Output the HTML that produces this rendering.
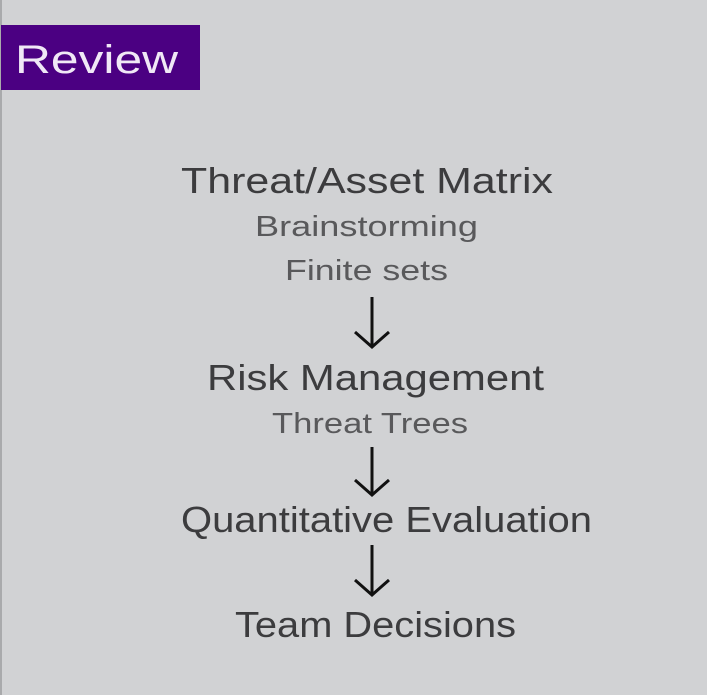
<!DOCTYPE html>
<html><head><meta charset="utf-8"><style>
html,body{margin:0;padding:0;background:#d1d2d4;}
svg{display:block;}
text{font-family:"Liberation Sans",sans-serif;}
</style></head><body>
<svg width="707" height="695" viewBox="0 0 707 695">
<rect x="0" y="0" width="707" height="695" fill="#d1d2d4"/>
<rect x="0" y="0" width="2" height="695" fill="#a9aaac"/>
<rect x="1" y="25" width="199" height="65" fill="#4b0082"/>
<text x="15" y="73" font-size="40" fill="#f0e8f6" textLength="163" lengthAdjust="spacingAndGlyphs">Review</text>
<g fill="#3c3c3e" text-anchor="start">
<text x="181" y="193" font-size="36" textLength="372" lengthAdjust="spacingAndGlyphs">Threat/Asset Matrix</text>
<text x="255" y="236" font-size="29" fill="#59595b" textLength="223" lengthAdjust="spacingAndGlyphs">Brainstorming</text>
<text x="285" y="280" font-size="29" fill="#59595b" textLength="163" lengthAdjust="spacingAndGlyphs">Finite sets</text>
<text x="207" y="390" font-size="36" textLength="337" lengthAdjust="spacingAndGlyphs">Risk Management</text>
<text x="272" y="433" font-size="29" fill="#59595b" textLength="196" lengthAdjust="spacingAndGlyphs">Threat Trees</text>
<text x="181" y="532" font-size="36" textLength="411" lengthAdjust="spacingAndGlyphs">Quantitative Evaluation</text>
<text x="235" y="637" font-size="36" textLength="281" lengthAdjust="spacingAndGlyphs">Team Decisions</text>
</g>
<g stroke="#111" stroke-width="3" fill="none">
<g><line x1="372" y1="297" x2="372" y2="347"/><polyline points="355,332 372,347 389,332"/></g>
<g><line x1="372" y1="447" x2="372" y2="495"/><polyline points="355,480 372,495 389,480"/></g>
<g><line x1="372" y1="545" x2="372" y2="595"/><polyline points="355,580 372,595 389,580"/></g>
</g>
</svg>
</body></html>
